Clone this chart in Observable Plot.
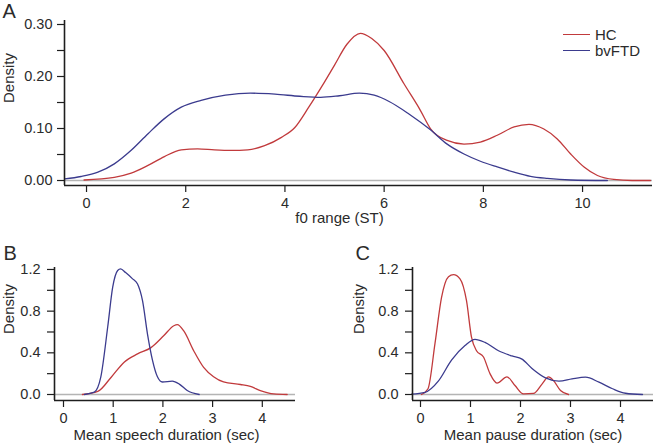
<!DOCTYPE html>
<html><head><meta charset="utf-8">
<script src="https://cdn.jsdelivr.net/npm/d3@7"></script>
<script src="https://cdn.jsdelivr.net/npm/@observablehq/plot@0.6"></script>
<style>
html,body{margin:0;padding:0;background:#fff;}
#chart{position:relative;width:654px;height:446px;overflow:hidden;font-family:"Liberation Sans",Arial,Helvetica,sans-serif;color:#2b2b2b;background:#fff;}
#chart .panel{position:absolute;}
#chart svg{overflow:visible;display:block;}
.legend{position:absolute;left:563px;top:26px;font-size:15px;line-height:17px;color:#2b2b2b;}
.legend .row{display:flex;align-items:center;height:16.5px;}
.legend .sw{width:27px;height:0;border-top:1.3px solid;margin-right:5px;}
</style>
</head><body>
<div id="chart"></div>
<script>
// ---------- data ----------
const groups = ["HC", "bvFTD"];
const groupColors = ["#c13a3c", "#3b3b8e"];

// Panel A: f0 range (ST)
const aHC_x = [-0.05, 0.56, 0.9, 1.24, 1.57, 1.91, 2.24, 2.58, 2.92, 3.25, 3.59, 3.93, 4.2, 4.48, 4.75, 5.0, 5.25, 5.52, 5.75, 6.0, 6.4, 6.73, 6.94, 7.27, 7.61, 7.94, 8.28, 8.62, 8.92, 9.22, 9.49, 9.76, 10.03, 10.3, 10.63, 11.0, 11.37];
const aHC_y = [0.001, 0.006, 0.014, 0.029, 0.046, 0.059, 0.061, 0.059, 0.058, 0.059, 0.067, 0.083, 0.102, 0.141, 0.182, 0.222, 0.262, 0.283, 0.273, 0.25, 0.186, 0.135, 0.099, 0.077, 0.070, 0.074, 0.087, 0.103, 0.108, 0.099, 0.080, 0.051, 0.026, 0.0096, 0.002, 0.0, 0.0];
const aBV_x = [-0.44, -0.11, 0.23, 0.56, 0.9, 1.24, 1.57, 1.91, 2.31, 2.8, 3.3, 3.8, 4.3, 4.72, 5.1, 5.5, 5.8, 6.1, 6.5, 6.94, 7.27, 7.61, 7.94, 8.28, 8.62, 8.95, 9.29, 9.76, 10.5];
const aBV_y = [0.003, 0.0077, 0.016, 0.032, 0.058, 0.090, 0.119, 0.141, 0.154, 0.164, 0.168, 0.166, 0.162, 0.160, 0.163, 0.168, 0.164, 0.152, 0.128, 0.097, 0.070, 0.051, 0.037, 0.026, 0.016, 0.008, 0.004, 0.001, 0.0];

// Panel B: mean speech duration (sec)
const bHC_x = [0.38, 0.69, 0.96, 1.22, 1.49, 1.76, 2.02, 2.22, 2.29, 2.42, 2.62, 2.82, 3.02, 3.22, 3.56, 3.76, 3.96, 4.23, 4.5];
const bHC_y = [0, 0.029, 0.166, 0.31, 0.39, 0.45, 0.566, 0.66, 0.67, 0.61, 0.42, 0.26, 0.17, 0.12, 0.096, 0.077, 0.038, 0.006, 0];
const bBV_x = [0.42, 0.62, 0.75, 0.89, 0.99, 1.09, 1.15, 1.25, 1.39, 1.49, 1.59, 1.69, 1.79, 1.89, 1.99, 2.19, 2.33, 2.49, 2.73];
const bBV_y = [0, 0.022, 0.166, 0.65, 1.03, 1.19, 1.206, 1.17, 1.11, 1.06, 0.90, 0.58, 0.33, 0.17, 0.12, 0.128, 0.10, 0.038, 0];

// Panel C: mean pause duration (sec)
const cHC_x = [0.02, 0.15, 0.29, 0.42, 0.56, 0.66, 0.79, 0.92, 1.02, 1.12, 1.26, 1.39, 1.53, 1.73, 1.89, 2.06, 2.26, 2.43, 2.56, 2.66, 2.8, 2.96];
const cHC_y = [0, 0.055, 0.49, 0.93, 1.13, 1.15, 1.11, 0.90, 0.55, 0.42, 0.36, 0.20, 0.11, 0.17, 0.086, 0.006, 0.01, 0.10, 0.17, 0.134, 0.038, 0];
const cBV_x = [-0.18, 0.09, 0.36, 0.62, 0.89, 1.09, 1.29, 1.56, 1.83, 2.03, 2.23, 2.5, 2.77, 3.03, 3.3, 3.57, 3.84, 4.1, 4.44];
const cBV_y = [0.003, 0.02, 0.13, 0.33, 0.47, 0.53, 0.50, 0.42, 0.37, 0.34, 0.25, 0.16, 0.128, 0.15, 0.166, 0.118, 0.055, 0.012, 0];

// ticks
const aXTicks = [0, 2, 4, 6, 8, 10];
const aXLabels = ["0", "2", "4", "6", "8", "10"];
const aYTicks = [0, 0.05, 0.10, 0.15, 0.20, 0.25, 0.30];
const aYLabels = ["0.00", "", "0.10", "", "0.20", "", "0.30"];
const bcXTicks = [0, 1, 2, 3, 4];
const bcXLabels = ["0", "1", "2", "3", "4"];
const bcYTicks = [0, 0.2, 0.4, 0.6, 0.8, 1.0, 1.2];
const bcYLabels = ["0.0", "", "0.4", "", "0.8", "", "1.2"];

const titles = {A: "f0 range (ST)", B: "Mean speech duration (sec)", C: "Mean pause duration (sec)"};

// ---------- build ----------
function toRows(xs, ys, g) { return xs.map((x, i) => ({x, y: ys[i], group: g})); }

function panel(o) {
  const rows = [...toRows(o.hcX, o.hcY, "HC"), ...toRows(o.bvX, o.bvY, "bvFTD")];
  return Plot.plot({
    width: o.width, height: o.height,
    marginLeft: o.ml, marginRight: o.mr, marginTop: o.mt, marginBottom: o.mb,
    x: {domain: o.xDomain},
    y: {domain: o.yDomain},
    color: {domain: groups, range: groupColors},
    style: {fontFamily: '"Liberation Sans", Arial, Helvetica, sans-serif', fontSize: "15px", color: "#2b2b2b", background: "transparent", overflow: "visible"},
    marks: [
      Plot.ruleY([0], {stroke: "#b4b4b4", strokeWidth: 1.3}),
      Plot.line(rows, {x: "x", y: "y", z: "group", stroke: "group", strokeWidth: 1.3, curve: "monotone-x"}),
      Plot.ruleX([o.xDomain[0]], {stroke: "#1e1e1e", strokeWidth: 1.6}),
      Plot.ruleY([o.yDomain[0]], {stroke: "#1e1e1e", strokeWidth: 1.6}),
      Plot.axisX(o.xTicks, {tickSize: 7, tickPadding: 5, label: null, fontSize: 14.5, stroke: "#1e1e1e", strokeWidth: 1.2, tickFormat: d => o.xLabels[o.xTicks.indexOf(d)]}),
      Plot.axisY(o.yTicks, {tickSize: 7, tickPadding: o.yPad, label: null, fontSize: 14.5, stroke: "#1e1e1e", strokeWidth: 1.2, tickFormat: d => o.yLabels[o.yTicks.indexOf(d)]}),
      Plot.text([o.letter], {frameAnchor: "top-left", textAnchor: "start", lineAnchor: "top", dx: o.letterDx, dy: o.letterDy, fontSize: 20}),
      Plot.text(["Density"], {frameAnchor: "left", rotate: -90, dx: o.densDx, fontSize: 15}),
      Plot.text([o.title], {frameAnchor: "bottom", dx: o.titleDx, dy: o.titleDy, fontSize: 15})
    ]
  });
}

const chart = document.getElementById("chart");
function place(el, left, top) {
  const d = document.createElement("div");
  d.className = "panel";
  d.style.left = left + "px"; d.style.top = top + "px";
  d.appendChild(el);
  chart.appendChild(d);
}

place(panel({
  hcX: aHC_x, hcY: aHC_y, bvX: aBV_x, bvY: aBV_y,
  width: 654, height: 232, ml: 64, mr: 2, mt: 20, mb: 47,
  xDomain: [-0.444, 11.41], yDomain: [-0.0096, 0.3077],
  xTicks: aXTicks, xLabels: aXLabels, yTicks: aYTicks, yLabels: aYLabels, yPad: 5,
  letter: "A", letterDx: -62, letterDy: -17,
  densDx: -55, title: titles.A, titleDx: -19, titleDy: 37
}), 0, 0);

place(panel({
  hcX: bHC_x, hcY: bHC_y, bvX: bBV_x, bvY: bBV_y,
  width: 327, height: 226, ml: 54, mr: 32, mt: 47, mb: 46,
  xDomain: [-0.181, 4.668], yDomain: [-0.0576, 1.219],
  xTicks: bcXTicks, xLabels: bcXLabels, yTicks: bcYTicks, yLabels: bcYLabels, yPad: 7,
  letter: "B", letterDx: -51, letterDy: -22,
  densDx: -45.5, title: titles.B, titleDx: -8.5, titleDy: 39.5
}), 0, 220);

place(panel({
  hcX: cHC_x, hcY: cHC_y, bvX: cBV_x, bvY: cBV_y,
  width: 327, height: 226, ml: 85, mr: 1, mt: 47, mb: 46,
  xDomain: [-0.16, 4.66], yDomain: [-0.0576, 1.219],
  xTicks: bcXTicks, xLabels: bcXLabels, yTicks: bcYTicks, yLabels: bcYLabels, yPad: 7,
  letter: "C", letterDx: -57, letterDy: -22,
  densDx: -53, title: titles.C, titleDx: 0, titleDy: 39.5
}), 327, 220);

// legend (panel A)
const leg = document.createElement("div");
leg.className = "legend";
groups.forEach((g, i) => {
  const row = document.createElement("div");
  row.className = "row";
  const sw = document.createElement("span");
  sw.className = "sw";
  sw.style.borderTopColor = groupColors[i];
  const t = document.createElement("span");
  t.textContent = g;
  row.appendChild(sw); row.appendChild(t);
  leg.appendChild(row);
});
chart.appendChild(leg);
</script>
</body></html>
